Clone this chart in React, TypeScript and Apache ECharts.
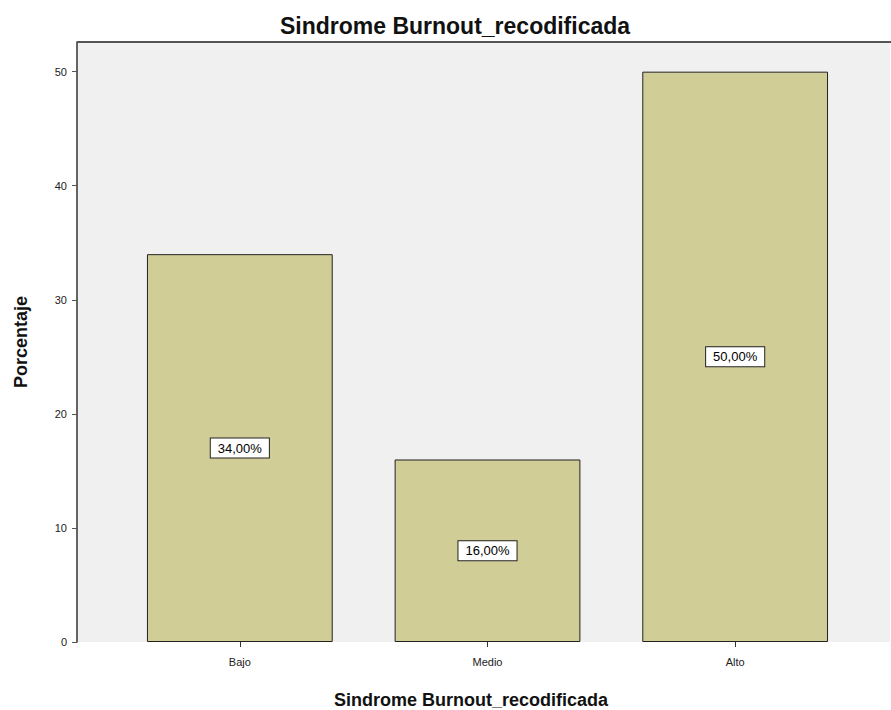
import React, { useEffect, useRef } from "react";
import * as echarts from "echarts";

// Burnout syndrome, recoded into three levels (percent of respondents)
const categories = ["Bajo", "Medio", "Alto"];
const percentages = [34, 16, 50];
const yTickValues = [0, 10, 20, 30, 40, 50];

const TITLE = "Sindrome Burnout_recodificada";
const FONT = "'Liberation Sans', Arial, sans-serif";

const fmtPct = (v: number) => v.toFixed(2).replace(".", ",") + "%";

export default function App() {
  const ref = useRef<HTMLDivElement>(null);

  useEffect(() => {
    if (!ref.current) return;
    const chart = echarts.init(ref.current, null, { renderer: "svg" });

    const plotLeft = 77;
    const plotRight = 890;
    const plotTop = 42;
    const plotBottom = 642;

    chart.setOption({
      animation: false,
      backgroundColor: "#ffffff",
      textStyle: { fontFamily: FONT },
      title: [
        {
          text: TITLE,
          left: 450,
          top: 9,
          textAlign: "center",
          textStyle: { fontSize: 23, fontWeight: "bold", color: "#111", fontFamily: FONT },
        },
        {
          text: TITLE,
          left: 466,
          top: 686,
          textAlign: "center",
          textStyle: { fontSize: 18, fontWeight: "bold", color: "#111", fontFamily: FONT },
        },
      ],
      graphic: [
        {
          type: "rect",
          z: -10,
          shape: { x: plotLeft, y: plotTop, width: plotRight - plotLeft, height: plotBottom - plotTop },
          style: { fill: "#f0f0f0" },
          silent: true,
        },
        {
          type: "line",
          z: 10,
          shape: { x1: plotLeft, y1: plotTop, x2: plotRight + 1, y2: plotTop },
          style: { stroke: "#555", lineWidth: 2 },
          silent: true,
        },
      ],
      grid: { left: 116, right: 32, top: plotTop, bottom: 710 - plotBottom, containLabel: false },
      xAxis: {
        type: "category",
        data: categories,
        axisLine: { show: false },
        axisTick: { show: true, alignWithLabel: true, length: 5, lineStyle: { color: "#333" } },
        axisLabel: { fontSize: 11, color: "#222", margin: 14, fontFamily: FONT },
        splitLine: { show: false },
      },
      yAxis: {
        type: "value",
        min: 0,
        max: 52.6,
        offset: 39,
        name: "Porcentaje",
        nameLocation: "middle",
        nameGap: 47,
        nameTextStyle: { fontSize: 18, fontWeight: "bold", color: "#111", fontFamily: FONT },
        axisLine: { show: true, lineStyle: { color: "#333", width: 1.5 } },
        axisTick: { show: true, length: 5, customValues: yTickValues, lineStyle: { color: "#555" } },
        axisLabel: { fontSize: 11, color: "#222", margin: 10, customValues: yTickValues, fontFamily: FONT },
        splitLine: { show: false },
      },
      series: [
        {
          type: "bar",
          data: percentages,
          barCategoryGap: "25%",
          itemStyle: { color: "#d0cd96", borderColor: "#222", borderWidth: 1 },
          label: {
            show: true,
            position: "inside",
            formatter: (p: any) => fmtPct(p.value),
            fontSize: 13,
            color: "#000",
            fontFamily: FONT,
            backgroundColor: "#ffffff",
            borderColor: "#222",
            borderWidth: 1,
            padding: [3, 7],
          },
        },
      ],
    });

    return () => chart.dispose();
  }, []);

  return (
    <div
      ref={ref}
      style={{ position: "fixed", left: 0, top: 0, width: 891, height: 710 }}
    />
  );
}
